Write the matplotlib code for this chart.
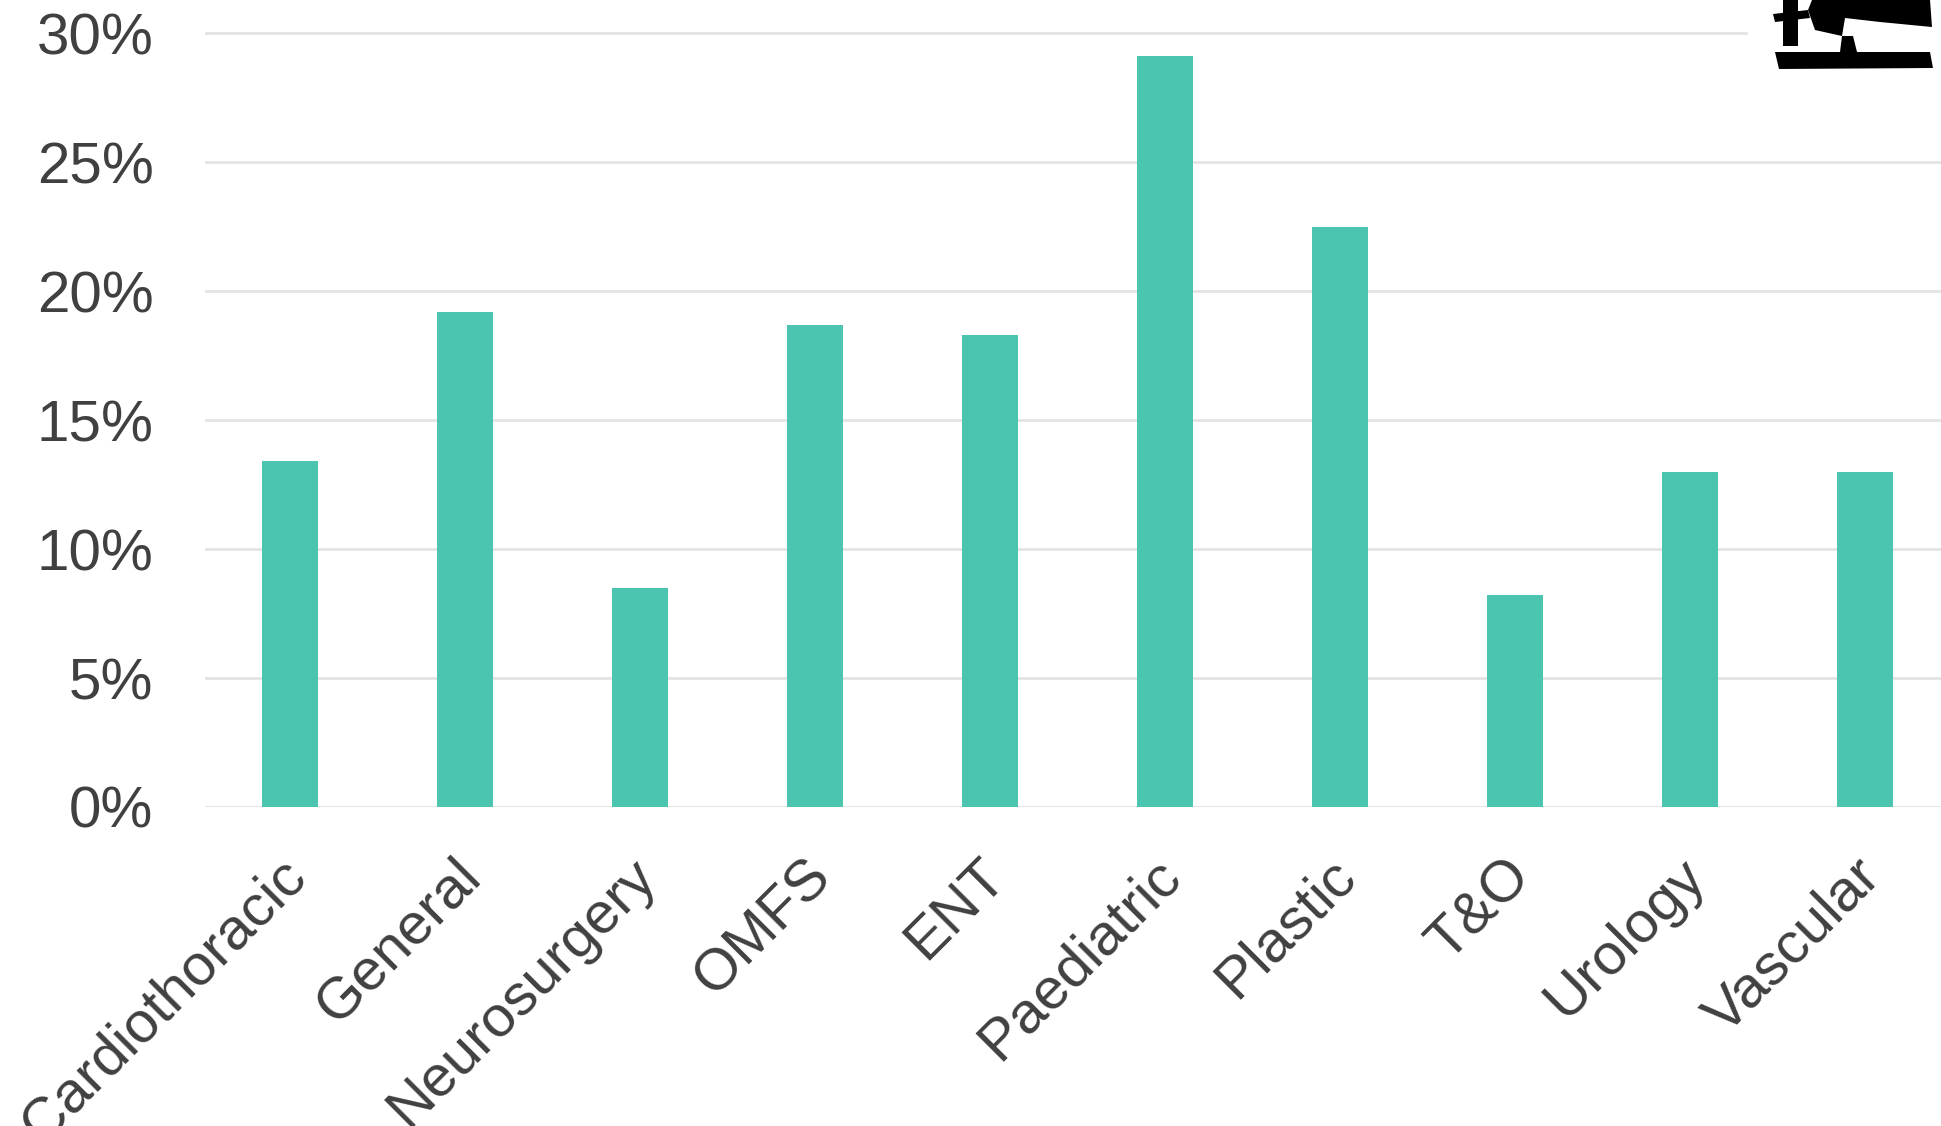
import matplotlib.pyplot as plt
from matplotlib.patches import Polygon, Rectangle
import matplotlib.transforms as mtransforms

specialties = ['Cardiothoracic', 'General', 'Neurosurgery', 'OMFS', 'ENT',
               'Paediatric', 'Plastic', 'T&O', 'Urology', 'Vascular']
percent = [13.4, 19.2, 8.5, 18.7, 18.3, 29.1, 22.5, 8.2, 13.0, 13.0]
yticks = [0, 5, 10, 15, 20, 25, 30]

plt.rcParams['font.family'] = ['Liberation Sans', 'DejaVu Sans']

fig = plt.figure(figsize=(19.41, 11.26), dpi=100)
ax = fig.add_axes([205 / 1941, 1 - 807 / 1126, 1 - 205 / 1941, 807 / 1126])

x = range(len(specialties))
ax.bar(x, percent, width=0.32, color='#4bc5b0', zorder=3)

ax.set_xlim(-0.486, 9.434)
ax.set_ylim(0, 31.28)
ax.set_yticks(yticks)
ax.set_yticklabels([f'{t}%' for t in yticks])
ax.set_xticks(list(x))
ax.set_xticklabels(specialties, rotation=45, ha='right', va='top', rotation_mode='anchor')

ax.tick_params(axis='both', length=0, labelsize=42, labelcolor='#404040')
ax.tick_params(axis='y', pad=37)
ax.tick_params(axis='x', pad=30)
shift = mtransforms.ScaledTranslation(-12 / 100, 0, fig.dpi_scale_trans)
for lab in ax.get_xticklabels():
    lab.set_transform(lab.get_transform() + shift)

ax.grid(axis='y', color='#e3e3e3', linewidth=2, zorder=0)
for s in ax.spines.values():
    s.set_visible(False)

# logo in the top right corner (rough)
W, H = 1941, 1126
def fc(px, py):
    return (px / W, 1 - py / H)

fig.patches.append(Rectangle(fc(1748, 75), 193 / W, 75 / H, transform=fig.transFigure,
                             facecolor='white', edgecolor='none', zorder=5))
shapes = [
    [(1775, 52), (1930, 52), (1933, 68), (1779, 69)],
    [(1783, 0), (1798, 0), (1798, 46), (1783, 46)],
    [(1812, 0), (1930, 0), (1932, 27), (1880, 22), (1845, 18), (1842, 36), (1815, 30), (1808, 10)],
    [(1773, 14), (1808, 10), (1810, 18), (1775, 22)],
    [(1842, 36), (1853, 36), (1857, 52), (1840, 52)],
]
for sh in shapes:
    fig.patches.append(Polygon([fc(px, py) for px, py in sh], closed=True,
                               transform=fig.transFigure, facecolor='black',
                               edgecolor='none', zorder=6))

fig.savefig('out.png', dpi=100)
